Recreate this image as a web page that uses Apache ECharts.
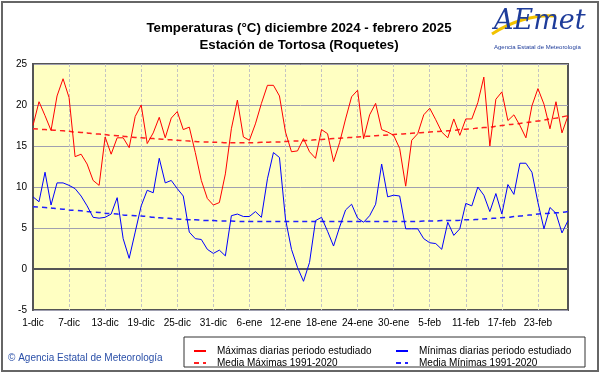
<!DOCTYPE html>
<html><head><meta charset="utf-8">
<script src="https://cdn.jsdelivr.net/npm/echarts@6/dist/echarts.min.js"></script>
<style>html,body{margin:0;padding:0;background:#fff}#c{width:601px;height:374px}</style>
</head><body><div id="c"></div>
<script>
const monthNames = ['dic', 'ene', 'feb'];
const monthDays = [31, 31, 28];
const yTicks = [-5, 0, 5, 10, 15, 20, 25];

const maxDaily = [
17.5,20.4,18.7,16.9,21.1,23.2,20.9,13.7,14.0,12.8,
10.8,10.2,16.1,14.0,16.0,16.0,14.8,18.6,20.0,15.3,
16.6,18.5,16.0,18.4,19.2,17.0,17.3,14.2,10.8,8.6,
7.8,8.1,11.6,17.1,20.6,16.1,15.7,17.7,20.2,22.4,
22.4,21.1,16.7,14.3,14.4,15.9,14.3,13.5,17.0,16.5,
13.1,15.4,18.3,21.0,21.8,15.9,18.8,20.2,17.0,16.7,
16.3,14.7,10.1,15.7,16.5,18.8,19.6,18.2,16.7,16.0,
18.3,16.3,18.3,18.3,20.3,23.4,15.0,20.7,21.6,18.1,
18.8,17.5,16.0,19.9,22.0,20.1,17.1,20.4,16.6,18.7];

const minDaily = [
8.8,8.2,11.8,7.8,10.5,10.5,10.2,9.8,8.9,7.7,
6.3,6.2,6.3,6.7,8.7,3.7,1.3,4.5,7.7,9.6,
9.3,13.5,10.5,10.8,9.8,8.9,4.5,3.7,3.6,2.4,
1.9,2.3,1.6,6.5,6.7,6.4,6.4,7.0,6.3,11.0,
14.2,13.6,6.1,2.4,0.2,-1.5,0.8,5.9,6.3,4.6,
2.8,5.1,7.2,7.9,6.2,5.7,6.5,7.9,12.8,8.8,
9.0,8.9,4.9,4.9,4.9,3.7,3.2,3.1,2.4,5.7,
4.1,4.9,8.0,7.7,10.0,9.0,7.0,9.2,6.7,10.3,
9.1,12.9,12.9,11.8,8.1,4.9,7.5,6.8,4.4,5.9];

const meanMax = [
17.1,17.05,17.0,16.95,16.9,16.85,16.8,16.7,16.65,16.6,
16.5,16.45,16.4,16.3,16.25,16.2,16.1,16.05,16.0,15.95,
15.9,15.85,15.8,15.75,15.7,15.65,15.6,15.55,15.5,15.5,
15.45,15.45,15.4,15.4,15.4,15.4,15.4,15.4,15.45,15.45,
15.5,15.5,15.55,15.6,15.6,15.65,15.7,15.75,15.8,15.85,
15.9,15.95,16.0,16.05,16.1,16.15,16.2,16.25,16.3,16.35,
16.4,16.45,16.5,16.55,16.6,16.65,16.7,16.75,16.8,16.85,
16.9,17.0,17.05,17.1,17.2,17.25,17.3,17.4,17.5,17.6,
17.65,17.75,17.85,17.95,18.05,18.15,18.3,18.4,18.55,18.7];

const meanMin = [
7.6,7.55,7.5,7.45,7.35,7.3,7.2,7.15,7.1,7.0,
6.95,6.9,6.8,6.75,6.7,6.6,6.55,6.5,6.45,6.4,
6.3,6.25,6.2,6.15,6.1,6.05,6.0,6.0,5.95,5.9,
5.9,5.85,5.85,5.85,5.8,5.8,5.8,5.8,5.8,5.8,
5.8,5.8,5.8,5.8,5.8,5.8,5.8,5.8,5.8,5.8,
5.8,5.8,5.8,5.8,5.8,5.8,5.8,5.8,5.8,5.8,
5.8,5.8,5.8,5.8,5.8,5.85,5.85,5.85,5.9,5.9,
5.9,5.95,6.0,6.0,6.05,6.1,6.15,6.2,6.25,6.3,
6.4,6.45,6.55,6.6,6.7,6.75,6.8,6.85,6.9,7.0];

const seriesNames = ['Máximas diarias periodo estudiado', 'Mínimas diarias periodo estudiado',
  'Media Máximas 1991-2020', 'Media Mínimas 1991-2020'];

const categories = [];
monthNames.forEach((m, k) => { for (let d = 1; d <= monthDays[k]; d++) categories.push(d + '-' + m); });

const FONT = '"Liberation Sans", Arial, sans-serif';
const chart = echarts.init(document.getElementById('c'), null, {renderer: 'canvas'});

const legendBase = {
  orient: 'horizontal', itemWidth: 12, itemHeight: 8, itemGap: 4, selectedMode: false,
  itemStyle: {opacity: 0},
  textStyle: {fontFamily: FONT, fontSize: 10, color: '#000', padding: [0, 0, 0, 6]}
};

chart.setOption({
  animation: false,
  backgroundColor: '#fff',
  title: [{
    text: 'Temperaturas (°C) diciembre 2024 - febrero 2025\nEstación de Tortosa (Roquetes)',
    left: 294, top: 15, textAlign: 'center',
    textStyle: {fontFamily: '"Liberation Sans Narrow", "Liberation Sans", Arial, sans-serif', fontWeight: 'bold', fontSize: 13.3, lineHeight: 17, color: '#000'}
  }],
  grid: {left: 33, top: 64, width: 535, height: 246, show: true, backgroundColor: '#FFFFC2', borderColor: '#555', borderWidth: 2},
  xAxis: {
    type: 'category', data: categories, boundaryGap: false,
    axisLine: {show: true, lineStyle: {color: '#555', width: 2}},
    axisTick: {show: false},
    axisLabel: {interval: 5, fontFamily: FONT, fontSize: 10, color: '#000', margin: 8},
    splitLine: {show: true, interval: 5, lineStyle: {color: '#c4c4c4', type: [3, 2], width: 1}}
  },
  yAxis: {
    type: 'value', min: yTicks[0], max: yTicks[yTicks.length - 1], interval: 5,
    axisLine: {show: true, lineStyle: {color: '#555', width: 2}},
    axisTick: {show: false},
    axisLabel: {fontFamily: FONT, fontSize: 10, color: '#000', margin: 6},
    splitLine: {show: true, lineStyle: {color: '#a0a0b0', width: 1}}
  },
  legend: [
    Object.assign({}, legendBase, {data: [seriesNames[0]], left: 188, top: 341}),
    Object.assign({}, legendBase, {data: [seriesNames[1]], left: 390, top: 341}),
    Object.assign({}, legendBase, {data: [seriesNames[2]], left: 188, top: 353}),
    Object.assign({}, legendBase, {data: [seriesNames[3]], left: 390, top: 353})
  ],
  series: [
    {name: seriesNames[0], type: 'line', data: maxDaily, symbol: 'none', lineStyle: {color: '#ff0000', width: 1}, itemStyle: {color: '#ff0000'}, z: 5,
     markLine: {silent: true, symbol: 'none', label: {show: false}, lineStyle: {color: '#555', width: 2, type: 'solid'}, data: [{yAxis: 0}]}},
    {name: seriesNames[1], type: 'line', data: minDaily, symbol: 'none', lineStyle: {color: '#0000ff', width: 1}, itemStyle: {color: '#0000ff'}, z: 5},
    {name: seriesNames[2], type: 'line', data: meanMax, symbol: 'none', smooth: true, lineStyle: {color: '#ff2020', width: 1.5, type: [5, 4]}, itemStyle: {color: '#ff2020'}, z: 4},
    {name: seriesNames[3], type: 'line', data: meanMin, symbol: 'none', smooth: true, lineStyle: {color: '#2020ff', width: 1.5, type: [5, 4]}, itemStyle: {color: '#2020ff'}, z: 4}
  ],
  graphic: [
    {type: 'rect', shape: {x: 2, y: 2, width: 596, height: 369}, style: {fill: 'none', stroke: '#666', lineWidth: 2}, silent: true},
    {type: 'rect', shape: {x: 184, y: 337, width: 401, height: 30}, style: {fill: '#fff', stroke: '#333', lineWidth: 1}, z: -1, silent: true},
    {type: 'text', left: 8, top: 353, style: {text: '© Agencia Estatal de Meteorología', fill: '#2a4fa8', font: '10px "Liberation Sans", Arial, sans-serif'}},
    {type: 'bezierCurve', shape: {x1: 492, y1: 34, x2: 556, y2: 16, cpx1: 510, cpy1: 22, cpx2: 535, cpy2: 14}, style: {stroke: '#f2c200', lineWidth: 3, fill: 'none'}},
    {type: 'text', left: 494, top: 8, style: {text: 'AEmet', fill: '#1e3c9a', font: 'italic 27px "DejaVu Serif", serif'}},
    {type: 'text', left: 494, top: 44, style: {text: 'Agencia Estatal de Meteorología', fill: '#1e3c9a', font: '6px "Liberation Sans", Arial, sans-serif'}}
  ]
});
</script></body></html>
